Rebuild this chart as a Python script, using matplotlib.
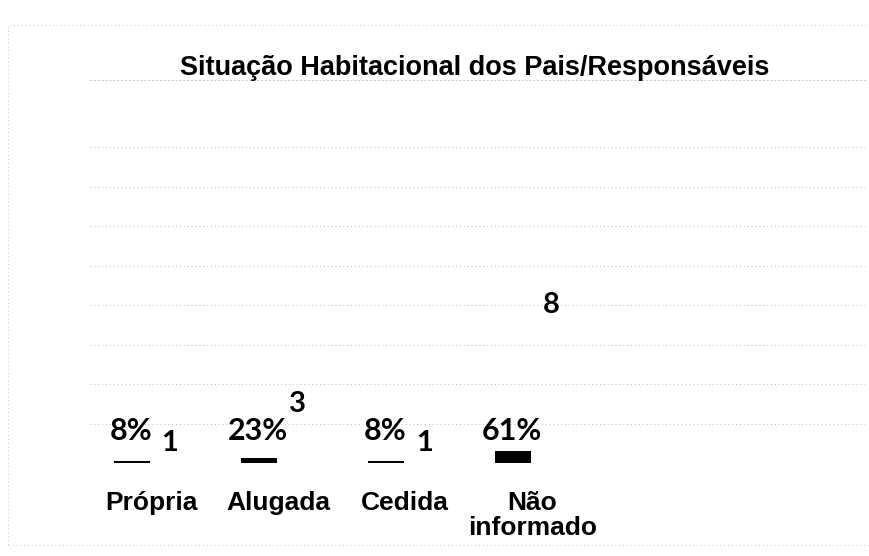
import matplotlib.pyplot as plt
from matplotlib.patches import Rectangle
import numpy as np

# data
categories = ['Própria', 'Alugada', 'Cedida', 'Não\ninformado']
counts = [1, 3, 1, 8]
percents = [0.08, 0.23, 0.08, 0.61]
pct_labels = ['8%', '23%', '8%', '61%']

fig = plt.figure(figsize=(8.7, 5.56), dpi=100)
ax = fig.add_axes([90 / 870, 93 / 556, 775 / 870, 383 / 556])

x = np.arange(len(categories))
w = 0.28

# percentage series (black, small) and count series (faded in the scan)
ax.bar(x - 0.15, percents, width=w, color='black', zorder=3)
ax.bar(x + 0.15, counts, width=w, color='none', edgecolor='none', zorder=2)

for xi, p in zip(x, pct_labels):
    ax.text(xi - 0.16, 1.6, p, ha='center', va='center', fontsize=22,
            fontweight='bold', family='Lato', zorder=4)
for xi, c in zip(x, counts):
    ax.text(xi + 0.15, c, str(c), ha='center', va='center', fontsize=21,
            fontweight='bold', family='Lato', zorder=4)

ax.set_xlim(-0.48, 5.62)
ax.set_ylim(0, 19.4)
ax.set_yticks(np.arange(0, 17, 2))
ax.yaxis.grid(True, color='#bdbdbd', linestyle=(0, (1, 3)), linewidth=0.7)
ax.set_axisbelow(True)
for s in ax.spines.values():
    s.set_visible(False)
ax.spines['top'].set_visible(True)
ax.spines['top'].set_color('#c8c8c8')
ax.spines['top'].set_linestyle((0, (1, 3)))
ax.spines['top'].set_linewidth(0.7)
ax.tick_params(left=False, labelleft=False, bottom=False, labelbottom=False)

# category labels under the baseline
for xi, name in zip(x, categories):
    ax.annotate(name, (xi, 0), xytext=(0, -20), textcoords='offset points',
                ha='center', va='top', fontsize=19, fontweight='bold',
                family='Liberation Sans', linespacing=1.05)

fig.text(0.546, 0.878, 'Situação Habitacional dos Pais/Responsáveis',
         ha='center', va='center', fontsize=19.5, fontweight='bold',
         family='Liberation Sans')

# dotted frame of the chart area
fig.add_artist(Rectangle((8 / 870, 11 / 556), 870, 520 / 556, transform=fig.transFigure,
                         fill=False, edgecolor='#c8c8c8', linestyle=(0, (1, 3)),
                         linewidth=0.7))

fig.savefig('out.png', dpi=100)
